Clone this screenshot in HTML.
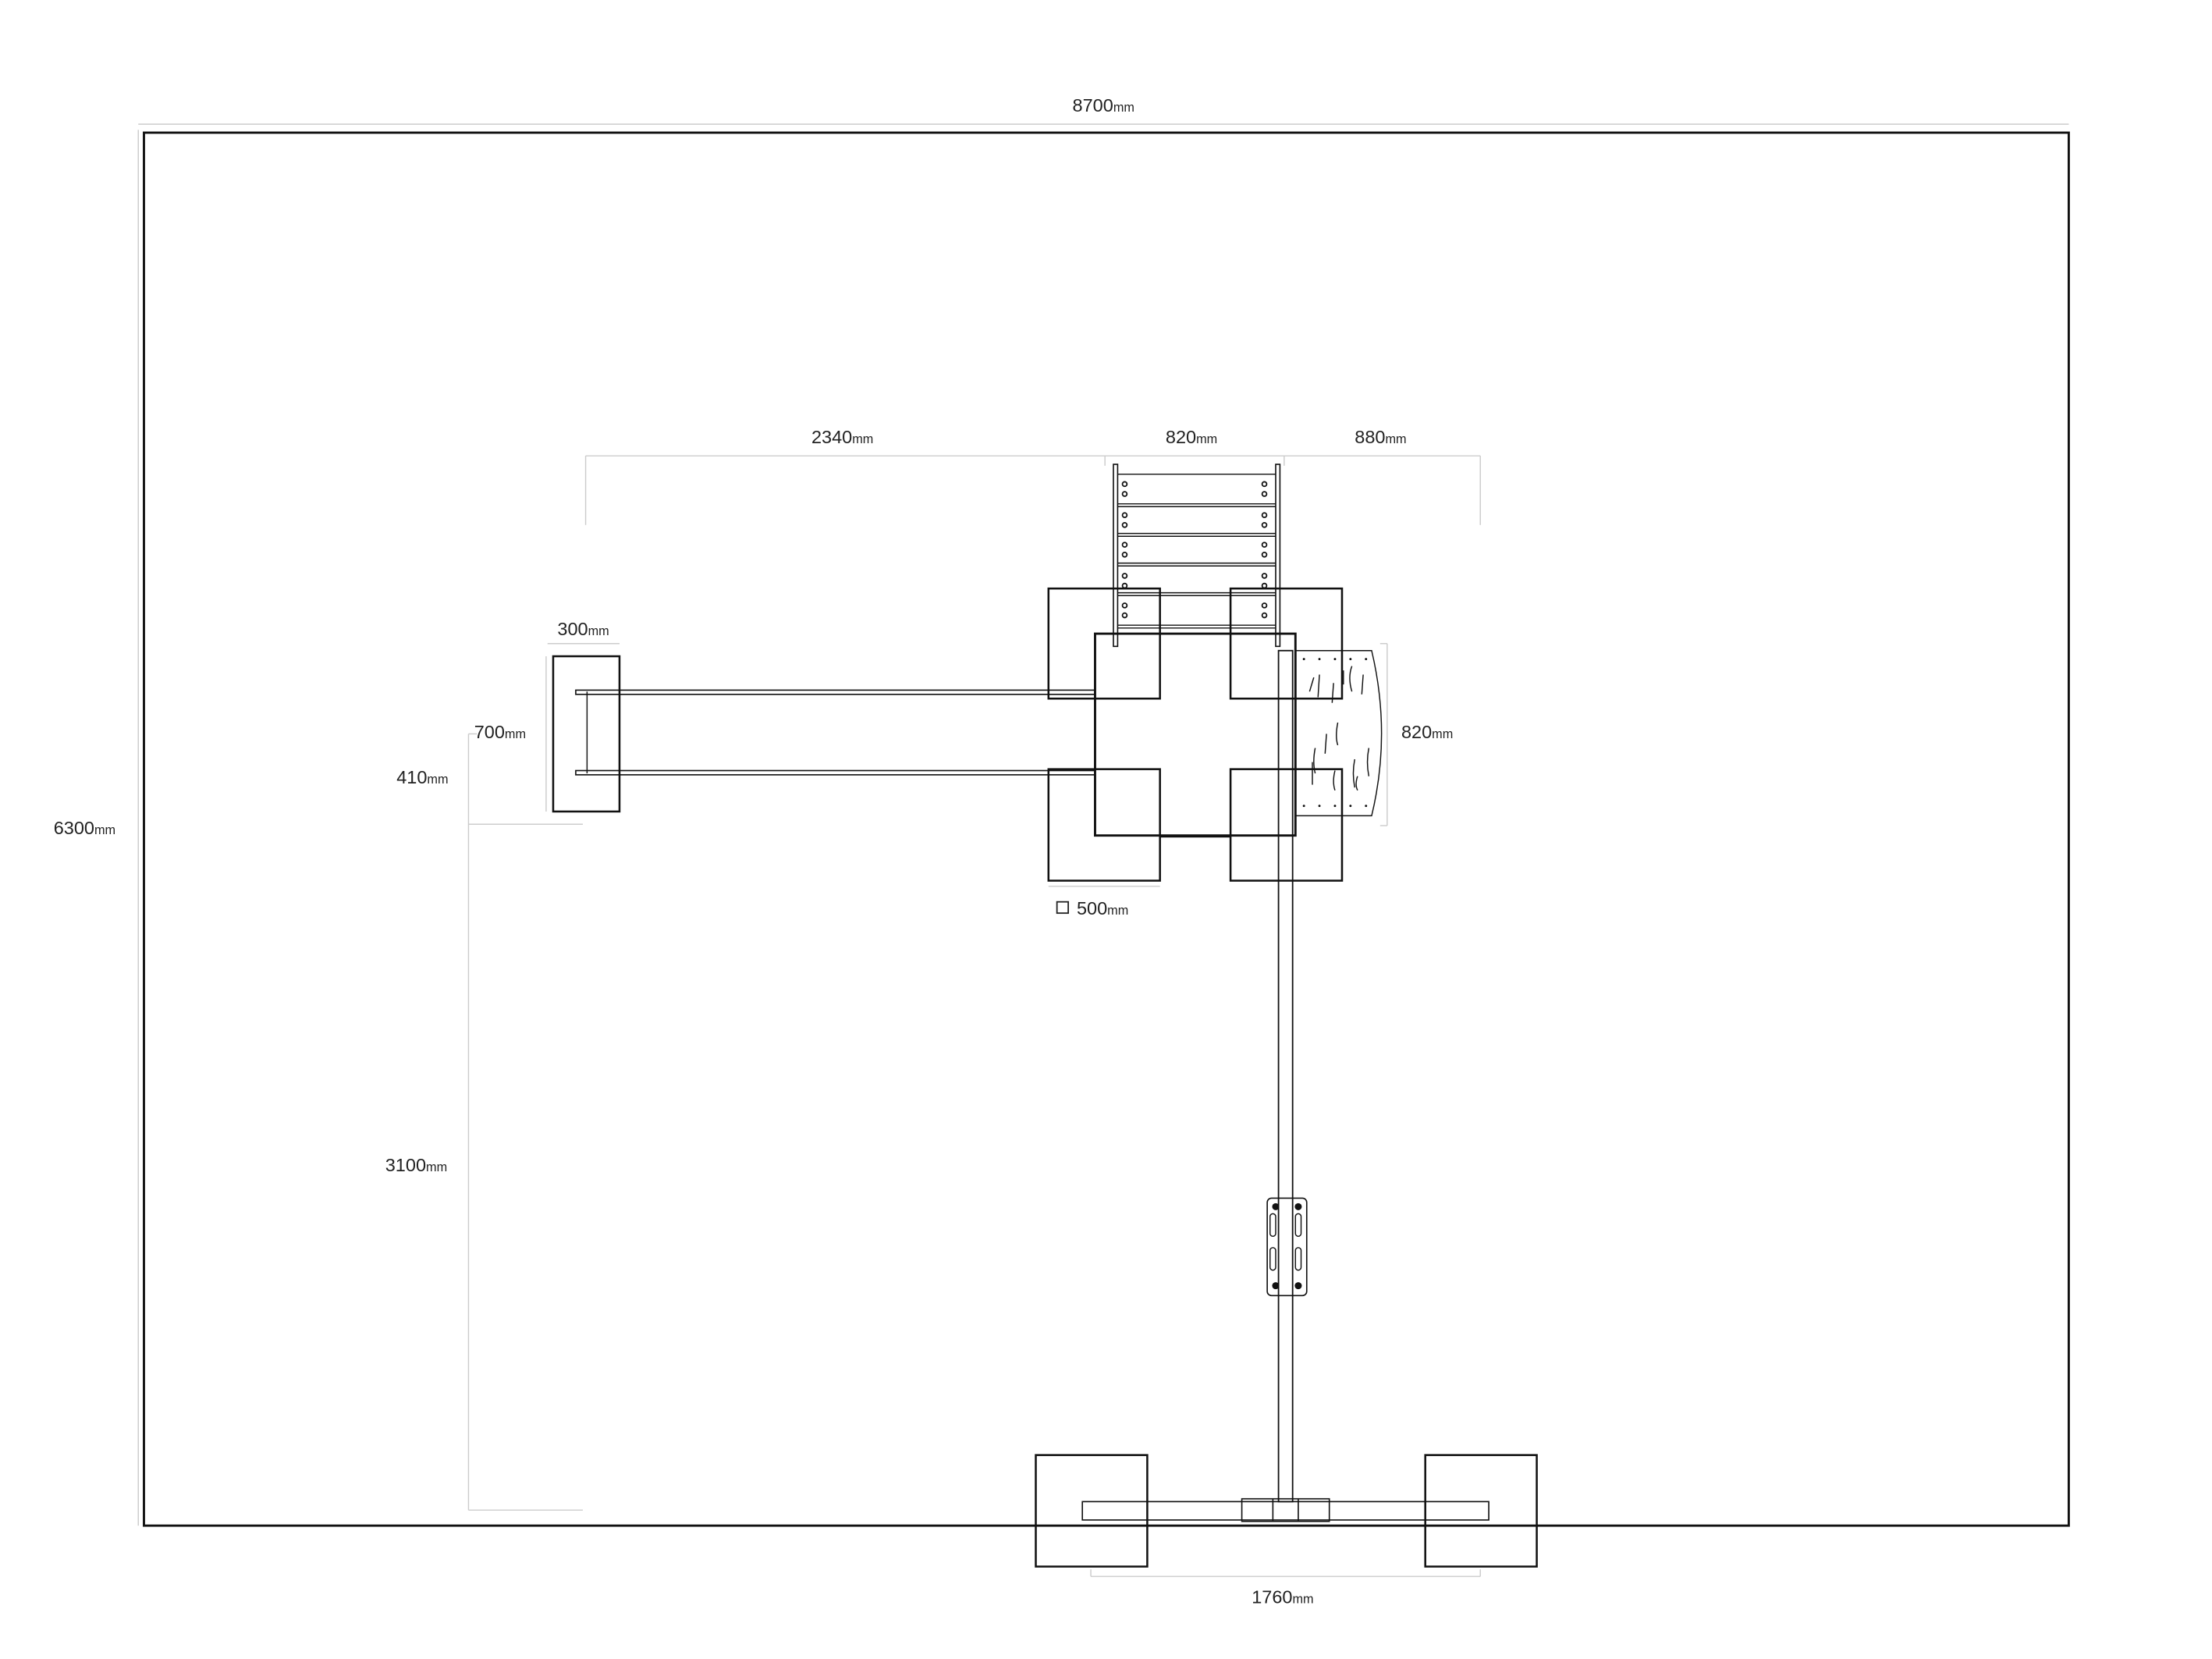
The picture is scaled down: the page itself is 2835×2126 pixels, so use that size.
<!DOCTYPE html>
<html><head><meta charset="utf-8"><style>html,body{margin:0;padding:0;background:#fff}svg{display:block}</style></head>
<body>
<svg xmlns="http://www.w3.org/2000/svg" width="2835" height="2126" viewBox="0 0 1567.5 1175.5" preserveAspectRatio="none" font-family="Liberation Sans, sans-serif" fill="none">
<rect width="1568" height="1176" fill="#fff"/>
<g stroke="#ccc" stroke-width="0.8">
<line x1="98" y1="88" x2="1466" y2="88"/>
<line x1="98" y1="92" x2="98" y2="1081"/>
<line x1="415" y1="323" x2="1049" y2="323"/>
<line x1="415" y1="323" x2="415" y2="372"/>
<line x1="1049" y1="323" x2="1049" y2="372"/>
<line x1="783" y1="323" x2="783" y2="330"/>
<line x1="910" y1="323" x2="910" y2="330"/>
<line x1="388" y1="456" x2="439" y2="456"/>
<line x1="387" y1="465" x2="387" y2="575"/>
<line x1="332" y1="520" x2="332" y2="1070"/>
<line x1="332" y1="520" x2="338" y2="520"/>
<line x1="332" y1="584" x2="413" y2="584"/>
<line x1="332" y1="1070" x2="413" y2="1070"/>
<line x1="983" y1="456" x2="983" y2="585"/>
<line x1="978" y1="456" x2="983" y2="456"/>
<line x1="978" y1="585" x2="983" y2="585"/>
<line x1="743" y1="628" x2="822" y2="628"/>
<line x1="773" y1="1117" x2="1049" y2="1117"/>
<line x1="773" y1="1112" x2="773" y2="1117"/>
<line x1="1049" y1="1112" x2="1049" y2="1117"/>
</g>
<g fill="#222" font-size="13">
<text x="760" y="79">8700<tspan font-size="9">mm</tspan></text>
<text x="38" y="591">6300<tspan font-size="9">mm</tspan></text>
<text x="575" y="314">2340<tspan font-size="9">mm</tspan></text>
<text x="826" y="314">820<tspan font-size="9">mm</tspan></text>
<text x="960" y="314">880<tspan font-size="9">mm</tspan></text>
<text x="395" y="450">300<tspan font-size="9">mm</tspan></text>
<text x="336" y="523">700<tspan font-size="9">mm</tspan></text>
<text x="281" y="555">410<tspan font-size="9">mm</tspan></text>
<text x="993" y="523">820<tspan font-size="9">mm</tspan></text>
<text x="763" y="648">500<tspan font-size="9">mm</tspan></text>
<text x="273" y="830">3100<tspan font-size="9">mm</tspan></text>
<text x="887" y="1136">1760<tspan font-size="9">mm</tspan></text>
</g>
<rect x="749" y="639" width="8" height="8" stroke="#222" stroke-width="1"/>
<rect x="102" y="94" width="1364" height="987" stroke="#111" stroke-width="1.6"/>
<g stroke="#111" stroke-width="1.4">
<rect x="789" y="329" width="3" height="129" stroke-width="0.9"/>
<rect x="904" y="329" width="3" height="129" stroke-width="0.9"/>
<g stroke-width="0.8">
<line x1="792" y1="336" x2="904" y2="336"/><line x1="792" y1="357" x2="904" y2="357"/><line x1="792" y1="359" x2="904" y2="359"/>
<line x1="792" y1="378" x2="904" y2="378"/><line x1="792" y1="380" x2="904" y2="380"/>
<line x1="792" y1="399" x2="904" y2="399"/><line x1="792" y1="401" x2="904" y2="401"/>
<line x1="792" y1="420" x2="904" y2="420"/><line x1="792" y1="422" x2="904" y2="422"/>
<line x1="792" y1="443" x2="904" y2="443"/><line x1="792" y1="445" x2="904" y2="445"/>
</g>
<g stroke-width="1" fill="#fff">
<circle cx="797" cy="343" r="1.6"/><circle cx="797" cy="350" r="1.6"/><circle cx="896" cy="343" r="1.6"/><circle cx="896" cy="350" r="1.6"/>
<circle cx="797" cy="365" r="1.6"/><circle cx="797" cy="372" r="1.6"/><circle cx="896" cy="365" r="1.6"/><circle cx="896" cy="372" r="1.6"/>
<circle cx="797" cy="386" r="1.6"/><circle cx="797" cy="393" r="1.6"/><circle cx="896" cy="386" r="1.6"/><circle cx="896" cy="393" r="1.6"/>
<circle cx="797" cy="408" r="1.6"/><circle cx="797" cy="415" r="1.6"/><circle cx="896" cy="408" r="1.6"/><circle cx="896" cy="415" r="1.6"/>
<circle cx="797" cy="429" r="1.6"/><circle cx="797" cy="436" r="1.6"/><circle cx="896" cy="429" r="1.6"/><circle cx="896" cy="436" r="1.6"/>
</g>
<rect x="743" y="417" width="79" height="78"/>
<rect x="872" y="417" width="79" height="78"/>
<rect x="743" y="545" width="79" height="79"/>
<rect x="872" y="545" width="79" height="79"/>
<rect x="776" y="449" width="142" height="143" stroke-width="1.6"/>
<line x1="822" y1="593" x2="872" y2="593" stroke-width="0.8"/>
<path d="M918 461 L972 461 Q986 520 972 578 L918 578" stroke-width="0.8"/>
<g stroke-width="0.8">
<path d="M928 490 l3 -10 M935 478 l-1 16 M944 498 l1 -14 M952 485 l0 -10 M958 490 q-3 -10 0 -18 M966 478 l-1 14 M948 512 q-2 10 0 16 M940 520 l-1 14 M932 530 q-2 10 0 18 M946 546 q-2 8 0 14 M960 538 q-2 10 0 20 M970 530 q-2 10 0 20 M930 540 l0 16 M962 550 q-2 6 0 10"/>
</g>
<g fill="#111" stroke="none">
<circle cx="924" cy="467" r="0.8"/><circle cx="935" cy="467" r="0.8"/><circle cx="946" cy="467" r="0.8"/><circle cx="957" cy="467" r="0.8"/><circle cx="968" cy="467" r="0.8"/>
<circle cx="924" cy="571" r="0.8"/><circle cx="935" cy="571" r="0.8"/><circle cx="946" cy="571" r="0.8"/><circle cx="957" cy="571" r="0.8"/><circle cx="968" cy="571" r="0.8"/>
</g>
<g stroke-width="0.9">
<rect x="408" y="489" width="368" height="3"/>
<rect x="408" y="546" width="368" height="3"/>
</g>
<rect x="392" y="465" width="47" height="110"/>
<line x1="416" y1="490" x2="416" y2="548" stroke-width="0.8"/>
<rect x="906" y="461" width="10" height="603" stroke-width="1"/>
<rect x="898" y="849" width="28" height="69" rx="3" stroke-width="0.9" fill="#fff"/>
<line x1="906" y1="849" x2="906" y2="918" stroke-width="1"/><line x1="916" y1="849" x2="916" y2="918" stroke-width="1"/>
<g stroke-width="0.8"><rect x="900" y="860" width="4" height="16" rx="2"/><rect x="918" y="860" width="4" height="16" rx="2"/><rect x="900" y="884" width="4" height="16" rx="2"/><rect x="918" y="884" width="4" height="16" rx="2"/></g>
<g fill="#111" stroke="none"><circle cx="904" cy="855" r="2.5"/><circle cx="920" cy="855" r="2.5"/><circle cx="904" cy="911" r="2.5"/><circle cx="920" cy="911" r="2.5"/></g>
<rect x="734" y="1031" width="79" height="79"/>
<rect x="1010" y="1031" width="79" height="79"/>
<rect x="767" y="1064" width="288" height="13" stroke-width="0.9"/>
<rect x="880" y="1062" width="62" height="16" stroke-width="0.9"/>
<line x1="902" y1="1062" x2="902" y2="1078" stroke-width="0.9"/><line x1="920" y1="1062" x2="920" y2="1078" stroke-width="0.9"/>
</g>
</svg>
</body></html>
